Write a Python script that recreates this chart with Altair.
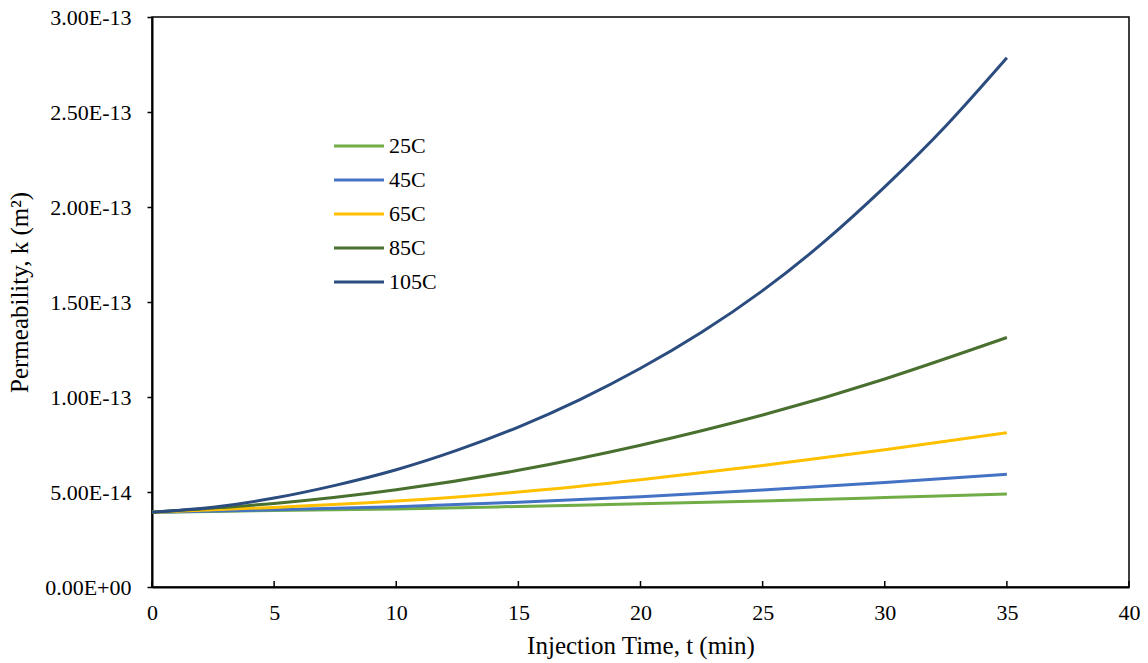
import altair as alt
import pandas as pd

# Data (permeability in m^2)
series = ["25C", "45C", "65C", "85C", "105C"]
colors = ["#70AD47", "#4472C4", "#FFC000", "#4A7030", "#2B4C7E"]

t_5 = [0, 5, 10, 15, 20, 25, 30, 35]
k_25 = [0.394e-13, 0.402e-13, 0.411e-13, 0.424e-13, 0.438e-13, 0.453e-13, 0.471e-13, 0.490e-13]
k_45 = [0.394e-13, 0.406e-13, 0.423e-13, 0.446e-13, 0.475e-13, 0.510e-13, 0.550e-13, 0.593e-13]
k_65 = [0.394e-13, 0.419e-13, 0.452e-13, 0.500e-13, 0.565e-13, 0.640e-13, 0.722e-13, 0.812e-13]
k_85 = [0.394e-13, 0.440e-13, 0.512e-13, 0.614e-13, 0.746e-13, 0.905e-13, 1.095e-13, 1.313e-13]
t_105 = [0, 2.5, 5, 7.5, 10, 12.5, 15, 17.5, 20, 22.5, 25, 27.5, 30, 32.5, 35]
k_105 = [0.394e-13, 0.42e-13, 0.468e-13, 0.535e-13, 0.617e-13, 0.72e-13, 0.842e-13, 0.985e-13,
         1.151e-13, 1.341e-13, 1.56e-13, 1.815e-13, 2.106e-13, 2.426e-13, 2.785e-13]

x_ticks = [0, 5, 10, 15, 20, 25, 30, 35, 40]
y_ticks = [0, 0.5e-13, 1.0e-13, 1.5e-13, 2.0e-13, 2.5e-13, 3.0e-13]

rows = []
for name, ts, ks in [("25C", t_5, k_25), ("45C", t_5, k_45), ("65C", t_5, k_65),
                     ("85C", t_5, k_85), ("105C", t_105, k_105)]:
    for t, k in zip(ts, ks):
        rows.append({"t": t, "k": k, "series": name})
df = pd.DataFrame(rows)
ticks_df = pd.DataFrame({"t": x_ticks})

FONT = "Liberation Serif"
W, H = 977, 570

x_scale = alt.Scale(domain=[0, 40], nice=False, zero=False)
y_scale = alt.Scale(domain=[0, 3e-13], nice=False)

lines = alt.Chart(df).mark_line(strokeWidth=3, interpolate="natural").encode(
    x=alt.X("t:Q", scale=x_scale,
            axis=alt.Axis(title="Injection Time, t (min)", values=x_ticks, ticks=False,
                          labelPadding=15, titlePadding=10, grid=False, labelFlush=False,
                          domainColor="black", domainWidth=2)),
    y=alt.Y("k:Q", scale=y_scale,
            axis=alt.Axis(title="Permeability, k (m²)", values=y_ticks, tickSize=5,
                          tickColor="black", tickWidth=1.5, labelPadding=16,
                          titlePadding=12, grid=False, domainColor="black", domainWidth=2,
                          titleY=275,
                          labelExpr="datum.value == 0 ? '0.00E+00' : upper(format(datum.value, '.2e'))")),
    color=alt.Color("series:N", scale=alt.Scale(domain=series, range=colors),
                    legend=alt.Legend(title=None, orient="none", legendX=196, legendY=118,
                                      symbolType="M-5,0H5", symbolSize=100, symbolStrokeWidth=3,
                                      labelFontSize=22, labelFont=FONT, labelColor="black",
                                      rowPadding=12, padding=0, labelOffset=19)),
    order=alt.Order("t:Q"),
)

xticks = alt.Chart(ticks_df).mark_rule(color="black", strokeWidth=1.5).encode(
    x=alt.X("t:Q", scale=x_scale),
    y=alt.value(H),
    y2=alt.value(H - 6),
)

chart = alt.layer(lines, xticks).properties(
    width=W, height=H,
    background="white",
    autosize=alt.AutoSizeParams(type="none"),
    padding={"left": 144, "top": 9, "right": 11, "bottom": 76},
).configure_view(
    stroke="black", strokeWidth=1.5
).configure_axis(
    labelFont=FONT, titleFont=FONT, labelFontSize=22, titleFontSize=25,
    labelColor="black", titleColor="black", titleFontWeight="normal",
).configure_legend(
    labelFont=FONT, labelFontSize=22, labelColor="black",
)

chart.save("out.html", embed_options={"renderer": "svg", "actions": False})
